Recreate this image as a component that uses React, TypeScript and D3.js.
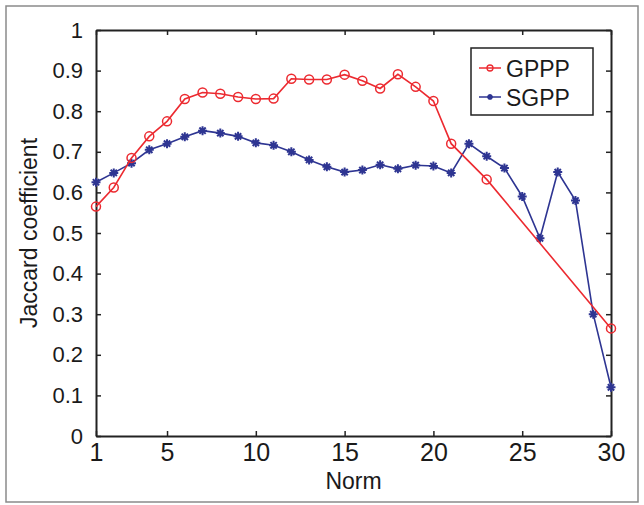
import React, { useEffect, useRef } from 'react';
import * as d3 from 'd3';

const W = 644;
const H = 505;
const margin = { top: 30, right: 33, bottom: 69, left: 96 };

const gpppX = [1, 2, 3, 4, 5, 6, 7, 8, 9, 10, 11, 12, 13, 14, 15, 16, 17, 18, 19, 20, 21, 23, 30];
const gpppY = [0.565, 0.612, 0.685, 0.738, 0.775, 0.83, 0.846, 0.843, 0.835, 0.83, 0.831, 0.88, 0.878, 0.878, 0.89, 0.875, 0.856, 0.891, 0.86, 0.825, 0.72, 0.632, 0.265];

const sgppX = d3.range(1, 31);
const sgppY = [0.625, 0.648, 0.672, 0.705, 0.72, 0.737, 0.752, 0.746, 0.738, 0.722, 0.716, 0.7, 0.68, 0.663, 0.65, 0.655, 0.668, 0.658, 0.667, 0.665, 0.648, 0.72, 0.689, 0.66, 0.59, 0.487, 0.65, 0.58, 0.3, 0.12];

const xTicks = [1, 5, 10, 15, 20, 25, 30];
const yTicks = [0, 0.1, 0.2, 0.3, 0.4, 0.5, 0.6, 0.7, 0.8, 0.9, 1];

const RED = '#ec2a30';
const BLUE = '#2e3592';
const FONT = '"Liberation Sans", Arial, sans-serif';

function App() {
  const ref = useRef<SVGSVGElement>(null);

  useEffect(() => {
    const svg = d3.select(ref.current);
    svg.selectAll('*').remove();

    const x = d3.scaleLinear().domain([1, 30]).range([margin.left, W - margin.right]);
    const y = d3.scaleLinear().domain([0, 1]).range([H - margin.bottom, margin.top]);

    // outer frame
    svg.append('rect')
      .attr('x', 6).attr('y', 6).attr('width', W - 12).attr('height', H - 9)
      .attr('fill', 'white').attr('stroke', '#8a8a8a').attr('stroke-width', 1.5);

    // axes (box style, inward ticks)
    const tick = 5;
    const xAxis = svg.append('g')
      .attr('transform', `translate(0,${y(0)})`)
      .call(d3.axisBottom(x).tickValues(xTicks).tickSizeInner(-tick).tickSizeOuter(0).tickPadding(7).tickFormat(d3.format('d')));
    svg.append('g')
      .attr('transform', `translate(0,${y(1)})`)
      .call(d3.axisTop(x).tickValues(xTicks).tickSizeInner(-tick).tickSizeOuter(0).tickFormat(() => ''));
    const yAxis = svg.append('g')
      .attr('transform', `translate(${x(1)},0)`)
      .call(d3.axisLeft(y).tickValues(yTicks).tickSizeInner(-tick).tickSizeOuter(0).tickPadding(13).tickFormat((d) => (d === 0 || d === 1 ? String(d) : d3.format('.1f')(d as number))));
    svg.append('g')
      .attr('transform', `translate(${x(30)},0)`)
      .call(d3.axisRight(y).tickValues(yTicks).tickSizeInner(-tick).tickSizeOuter(0).tickFormat(() => ''));

    svg.selectAll('.domain').attr('stroke', '#222').attr('stroke-width', 2);
    svg.selectAll('.tick line').attr('stroke', '#222').attr('stroke-width', 1.5);
    svg.selectAll('.tick text').attr('fill', '#1a1a1a').style('font-family', FONT);
    xAxis.selectAll('.tick text').style('font-size', '25px');
    yAxis.selectAll('.tick text').style('font-size', '22px');

    // axis labels
    svg.append('text')
      .attr('x', (x(1) + x(30)) / 2).attr('y', 489)
      .attr('text-anchor', 'middle').attr('fill', '#1a1a1a')
      .style('font-family', FONT).style('font-size', '23px')
      .text('Norm');
    svg.append('text')
      .attr('transform', `translate(37,${(y(0) + y(1)) / 2}) rotate(-90)`)
      .attr('text-anchor', 'middle').attr('fill', '#1a1a1a')
      .style('font-family', FONT).style('font-size', '23px')
      .text('Jaccard coefficient');

    const line = d3.line<[number, number]>().x((d) => x(d[0])).y((d) => y(d[1]));

    const gppp: [number, number][] = gpppX.map((v, i) => [v, gpppY[i]]);
    const sgpp: [number, number][] = sgppX.map((v, i) => [v, sgppY[i]]);

    const star = (g: d3.Selection<SVGGElement, unknown, null, undefined>, cx: number, cy: number, r: number) => {
      const p = `M${cx - r},${cy}L${cx + r},${cy}M${cx},${cy - r}L${cx},${cy + r}` +
        `M${cx - r * 0.7},${cy - r * 0.7}L${cx + r * 0.7},${cy + r * 0.7}M${cx - r * 0.7},${cy + r * 0.7}L${cx + r * 0.7},${cy - r * 0.7}`;
      g.append('path').attr('d', p).attr('stroke', BLUE).attr('stroke-width', 2);
    };

    // SGPP
    const gs = svg.append('g');
    gs.append('path').attr('d', line(sgpp)).attr('fill', 'none').attr('stroke', BLUE).attr('stroke-width', 1.6);
    sgpp.forEach((d) => star(gs, x(d[0]), y(d[1]), 4.5));

    // GPPP
    const gr = svg.append('g');
    gr.append('path').attr('d', line(gppp)).attr('fill', 'none').attr('stroke', RED).attr('stroke-width', 1.6);
    gr.selectAll('circle').data(gppp).enter().append('circle')
      .attr('cx', (d) => x(d[0])).attr('cy', (d) => y(d[1])).attr('r', 4.5)
      .attr('fill', 'none').attr('stroke', RED).attr('stroke-width', 1.5);

    // legend
    const lg = svg.append('g').attr('transform', 'translate(471,48)');
    lg.append('rect').attr('width', 122).attr('height', 67).attr('fill', 'white').attr('stroke', '#222').attr('stroke-width', 1.5);
    const rows = [
      { name: 'GPPP', color: RED, y: 20 },
      { name: 'SGPP', color: BLUE, y: 49 },
    ];
    rows.forEach((r, i) => {
      lg.append('line').attr('x1', 8).attr('x2', 30).attr('y1', r.y).attr('y2', r.y).attr('stroke', r.color).attr('stroke-width', 1.5);
      if (i === 0) {
        lg.append('circle').attr('cx', 19).attr('cy', r.y).attr('r', 3).attr('fill', 'none').attr('stroke', r.color).attr('stroke-width', 1.3);
      } else {
        star(lg as any, 19, r.y, 2.8);
      }
      lg.append('text').attr('x', 35).attr('y', r.y + 8.5).attr('fill', '#1a1a1a')
        .style('font-family', FONT).style('font-size', '23px').text(r.name);
    });
  }, []);

  return (
    <svg ref={ref} width={W} height={H} style={{ position: 'absolute', left: 0, top: 0 }} />
  );
}

export default App;
